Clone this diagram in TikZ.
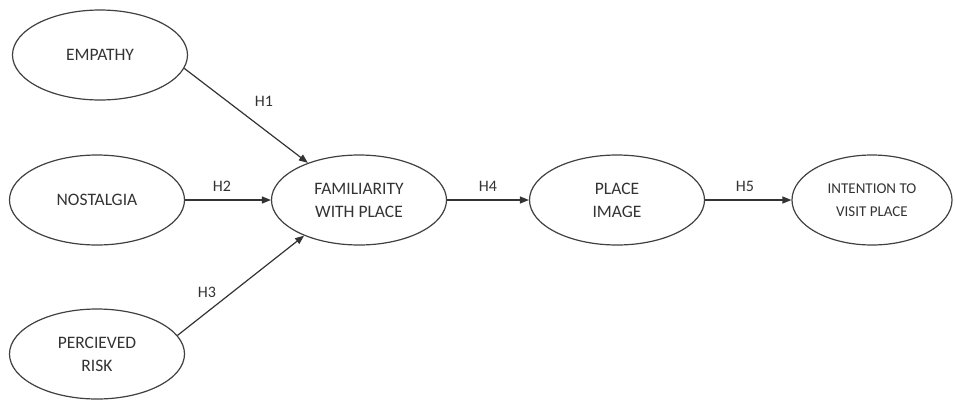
\documentclass[tikz,border=0pt]{standalone}
\usepackage{fontspec}
\setmainfont{Carlito}
\usetikzlibrary{shapes.geometric,arrows.meta}
\begin{document}
\begin{tikzpicture}[x=1pt,y=-1pt,
  latent/.style={draw=black!75,line width=1.2pt,ellipse,minimum width=175pt,minimum height=90pt,inner sep=0pt,align=center,font=\fontsize{17.5}{23}\selectfont,text=black!80},
  path/.style={draw=black!80,line width=1.2pt,-{Triangle[length=9pt,width=7pt]}},
  hlab/.style={font=\fontsize{16}{18}\selectfont,text=black!80}]
\useasboundingbox (0,0) rectangle (956,400);
\node[latent] (emp) at (100,55) {EMPATHY};
\node[latent] (nos) at (97,200) {NOSTALGIA};
\node[latent] (risk) at (97,354) {PERCIEVED\\RISK};
\node[latent] (fam) at (359,200) {FAMILIARITY\\WITH PLACE};
\node[latent] (img) at (617,200) {PLACE\\IMAGE};
\node[latent,minimum width=160pt,font=\fontsize{15}{23}\selectfont] (int) at (872,200) {INTENTION TO\\VISIT PLACE};
\draw[path] (emp.-9) -- (fam.144);
\draw[path] (nos) -- (fam);
\draw[path] (risk.13) -- (fam.213);
\draw[path] (fam) -- (img);
\draw[path] (img) -- (int);
\node[hlab] (h1) at (264,101) {H1};
\node[hlab] (h2) at (222,186) {H2};
\node[hlab] (h3) at (207,292) {H3};
\node[hlab] (h4) at (488,186) {H4};
\node[hlab] (h5) at (745,186) {H5};
\end{tikzpicture}
\end{document}
